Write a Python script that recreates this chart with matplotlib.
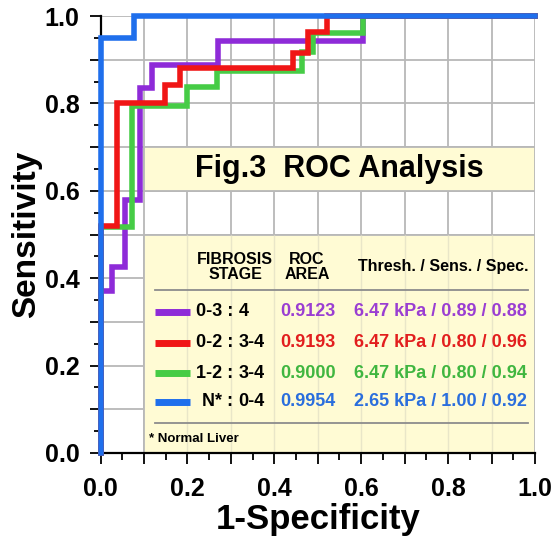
import matplotlib
matplotlib.use("Agg")
import matplotlib.pyplot as plt
from matplotlib.patches import Rectangle
from matplotlib.ticker import MultipleLocator

plt.rcParams['font.family'] = ['Liberation Sans', 'DejaVu Sans']
plt.rcParams['font.weight'] = 'bold'

# ROC operating points (1-Specificity, Sensitivity)
purple_x = [0, 0, 0.026, 0.056, 0.090, 0.118, 0.271, 0.604, 1.0]
purple_y = [0, 0.37, 0.425, 0.579, 0.835, 0.888, 0.943, 1.0, 1.0]
red_x = [0, 0, 0.038, 0.148, 0.183, 0.443, 0.478, 0.521, 1.0]
red_y = [0, 0.52, 0.80, 0.842, 0.881, 0.915, 0.963, 1.0, 1.0]
green_x = [0, 0, 0.072, 0.200, 0.268, 0.464, 0.490, 0.604, 1.0]
green_y = [0, 0.517, 0.795, 0.837, 0.875, 0.918, 0.960, 1.0, 1.0]
blue_x = [0, 0, 0.077, 1.0]
blue_y = [0, 0.95, 1.0, 1.0]

stages = ["0-3 :|4", "0-2 :|3-4", "1-2 :|3-4", "N* :|0-4"]
roc_areas = ["0.9123", "0.9193", "0.9000", "0.9954"]
thresholds = ["6.47 kPa / 0.89 / 0.88", "6.47 kPa / 0.80 / 0.96",
              "6.47 kPa / 0.80 / 0.94", "2.65 kPa / 1.00 / 0.92"]
x_ticklabels = ["0.0", "0.2", "0.4", "0.6", "0.8", "1.0"]
y_ticklabels = ["0.0", "0.2", "0.4", "0.6", "0.8", "1.0"]

line_colors = ['#8E2BD8', '#F01616', '#46CC46', '#1F6FEC']
text_colors = ['#9A3ED2', '#E21E1E', '#40B640', '#2A6EDD']

fig = plt.figure(figsize=(5.57, 5.42), dpi=100)
ax = fig.add_axes([100.5 / 557, 89 / 542, 434.5 / 557, 437 / 542])
ax.set_xlim(0, 1)
ax.set_ylim(0, 1)

grid_c = '#b8b8b8'
ax.xaxis.set_minor_locator(MultipleLocator(0.05))
ax.yaxis.set_minor_locator(MultipleLocator(0.05))
ax.set_xticks([i / 10 for i in range(11)])
ax.set_xticklabels([x_ticklabels[i // 2] if i % 2 == 0 else "" for i in range(11)])
ax.set_yticks([i / 10 for i in range(11)])
ax.set_yticklabels([y_ticklabels[i // 2] if i % 2 == 0 else "" for i in range(11)])
ax.grid(True, which='major', color=grid_c, lw=1.3, zorder=0)
ax.set_axisbelow(True)
ax.tick_params(which='major', length=8, width=1.3, direction='out', labelsize=18)
ax.tick_params(axis='x', which='major', pad=9)
ax.tick_params(axis='y', which='major', pad=7)
ax.tick_params(which='minor', length=5, width=1.3, direction='out')
for lab in ax.get_xticklabels() + ax.get_yticklabels():
    lab.set_fontweight('bold')

for s in ['top', 'right']:
    ax.spines[s].set_visible(False)
for s in ['left', 'bottom']:
    ax.spines[s].set_linewidth(1.6)

band_c = '#FFFBD4'
# title band
ax.add_patch(Rectangle((0.1, 0.6), 0.9, 0.1, facecolor=band_c, edgecolor=grid_c, lw=1.3, zorder=1))
ax.text(0.55, 0.65, "Fig.3  ROC Analysis", ha='center', va='center', fontsize=22,
        fontweight='bold', zorder=3)
# legend box
ax.add_patch(Rectangle((0.1, 0.0), 0.9, 0.5, facecolor=band_c, edgecolor=grid_c, lw=1.3, zorder=1))
ax.vlines([0.2, 0.3, 0.4, 0.5, 0.6, 0.7, 0.8, 0.9], 0, 0.5, colors='#e9e6c8', lw=1.0, zorder=1.1)

# curves
for xs, ys, c in [(purple_x, purple_y, line_colors[0]), (green_x, green_y, line_colors[2]),
                  (red_x, red_y, line_colors[1]), (blue_x, blue_y, line_colors[3])]:
    ax.plot(xs, ys, drawstyle='steps-post', color=c, lw=4, clip_on=False, zorder=4,
            solid_joinstyle='miter')

# legend table
ax.text(0.31, 0.426, "FIBROSIS\nSTAGE", ha='center', va='center', fontsize=11.5,
        fontweight='bold', linespacing=1.05, zorder=3)
ax.text(0.475, 0.426, "ROC\nAREA", ha='center', va='center', fontsize=11.5,
        fontweight='bold', linespacing=1.05, zorder=3)
ax.text(0.985, 0.426, "Thresh. / Sens. / Spec.", ha='right', va='center', fontsize=11.5,
        fontweight='bold', zorder=3)
ax.plot([0.125, 0.984], [0.373, 0.373], color='#8c8c8c', lw=1.3, zorder=3)
ax.plot([0.125, 0.984], [0.069, 0.069], color='#8c8c8c', lw=1.3, zorder=3)
rows_y = [0.323, 0.252, 0.183, 0.117]
for i in range(4):
    y = rows_y[i]
    ax.plot([0.125, 0.206], [y, y], color=line_colors[i], lw=5, solid_capstyle='butt', zorder=3)
    left, right = stages[i].split("|")
    ax.text(0.305, y, left, ha='right', va='center', fontsize=13, fontweight='bold', zorder=3)
    ax.text(0.318, y, right, ha='left', va='center', fontsize=13, fontweight='bold', zorder=3)
    ax.text(0.413, y, roc_areas[i], ha='left', va='center', fontsize=13, fontweight='bold',
            color=text_colors[i], zorder=3)
    ax.text(0.982, y, thresholds[i], ha='right', va='center', fontsize=13, fontweight='bold',
            color=text_colors[i], zorder=3)
ax.text(0.112, 0.032, "* Normal Liver", ha='left', va='center', fontsize=9.5,
        fontweight='bold', zorder=3)

ax.set_xlabel("1-Specificity", fontsize=25, fontweight='bold', labelpad=2)
ax.set_ylabel("Sensitivity", fontsize=24, fontweight='bold', labelpad=2)

fig.savefig("out.png", dpi=100)
